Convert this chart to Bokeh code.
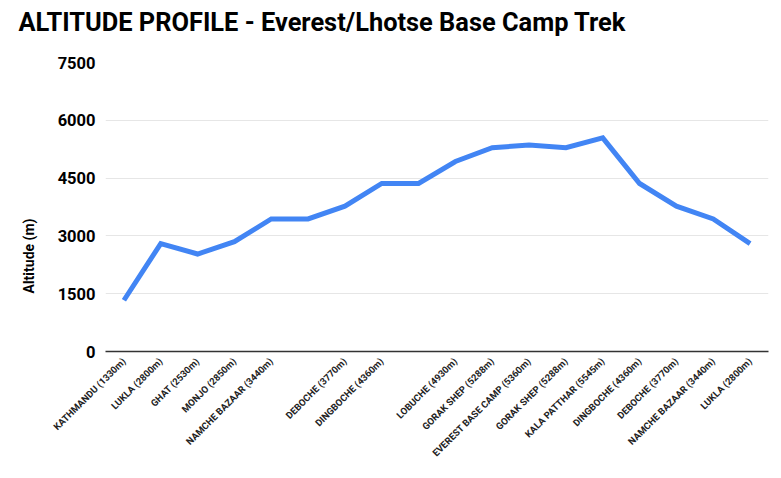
from math import pi
from bokeh.plotting import figure
from bokeh.models import FixedTicker, Range1d, Title
from bokeh.embed import file_html
from bokeh.resources import INLINE

# trek stops, in order (blank label = repeat/rest day, label hidden in original)
stops = ["KATHMANDU (1330m)", "LUKLA (2800m)", "GHAT (2530m)", "MONJO (2850m)",
         "NAMCHE BAZAAR (3440m)", "", "DEBOCHE (3770m)", "DINGBOCHE (4360m)", "",
         "LOBUCHE (4930m)", "GORAK SHEP (5288m)", "EVEREST BASE CAMP (5360m)",
         "GORAK SHEP (5288m)", "KALA PATTHAR (5545m)", "DINGBOCHE (4360m)",
         "DEBOCHE (3770m)", "NAMCHE BAZAAR (3440m)", "LUKLA (2800m)"]
altitude = [1330, 2800, 2530, 2850, 3440, 3440, 3770, 4360, 4360,
            4930, 5288, 5360, 5288, 5545, 4360, 3770, 3440, 2800]
y_ticks = [0, 1500, 3000, 4500, 6000, 7500]

idx = list(range(len(stops)))

p = figure(width=773, height=470, output_backend="svg", toolbar_location=None,
           x_range=Range1d(-0.5, len(stops) - 0.5), y_range=Range1d(0, 7500),
           min_border_left=105, min_border_right=5, min_border_top=62,
           min_border_bottom=119)
p.title = None

# spacer between frame and title, so the title sits near the top edge
p.add_layout(Title(text=" ", text_font_size="1px", standoff=16), "above")
p.add_layout(Title(text="ALTITUDE PROFILE - Everest/Lhotse Base Camp Trek",
                   text_font="Roboto", text_font_size="25.4px",
                   text_font_style="bold", text_color="#000000",
                   align="left", vertical_align="top", offset=-87, standoff=10),
             "above")

p.line(idx, altitude, line_color="#4285F4", line_width=5, line_join="miter")

p.outline_line_color = None
p.background_fill_color = "white"
p.border_fill_color = "white"

# x axis
p.xaxis.ticker = FixedTicker(ticks=idx)
p.xaxis.major_label_overrides = {i: s for i, s in zip(idx, stops)}
p.xaxis.major_label_orientation = pi / 4
p.xaxis.major_label_text_font = "Roboto"
p.xaxis.major_label_text_font_size = "9.5px"
p.xaxis.major_label_text_font_style = "bold"
p.xaxis.major_label_text_color = "#222222"
p.xaxis.major_tick_line_color = None
p.xaxis.major_tick_out = 0
p.xaxis.major_tick_in = 0
p.xaxis.minor_tick_line_color = None
p.xaxis.axis_line_color = "#333333"
p.xaxis.axis_line_width = 1.5
p.xaxis.major_label_standoff = 8

# y axis
p.yaxis.ticker = FixedTicker(ticks=y_ticks)
p.yaxis.major_label_text_font = "Roboto"
p.yaxis.major_label_text_font_size = "16.5px"
p.yaxis.major_label_text_font_style = "bold"
p.yaxis.major_label_text_color = "#000000"
p.yaxis.major_label_standoff = 10
p.yaxis.axis_line_color = None
p.yaxis.major_tick_line_color = None
p.yaxis.major_tick_out = 0
p.yaxis.major_tick_in = 0
p.yaxis.minor_tick_line_color = None

# axis title sits low in the original, so use a side title with an offset
p.add_layout(Title(text="Altitude (m)", align="left", offset=58, standoff=36,
                   text_font="Roboto", text_font_size="14px",
                   text_font_style="bold", text_color="#000000"), "left")

p.xgrid.grid_line_color = None
p.ygrid.grid_line_color = "#e6e6e6"
p.ygrid.grid_line_width = 1

open("out.html", "w").write(file_html(p, INLINE))
